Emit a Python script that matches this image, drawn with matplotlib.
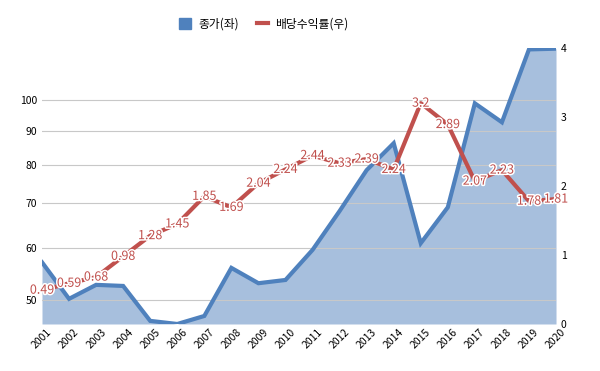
import matplotlib
matplotlib.use("Agg")
import matplotlib.pyplot as plt
import matplotlib.patheffects as pe
from matplotlib.patches import Patch
from matplotlib.lines import Line2D
import numpy as np

plt.rcParams['font.family'] = ['Noto Sans CJK KR', 'DejaVu Sans']

years = [str(y) for y in range(2001, 2021)]
price = [57.0, 50.2, 52.7, 52.5, 46.5, 46.0, 47.3, 55.9, 53.0, 53.6,
         59.5, 68.1, 78.5, 86.2, 60.9, 69.0, 99.0, 92.7, 119.4, 119.7]
yield_ = [0.49, 0.59, 0.68, 0.98, 1.28, 1.45, 1.85, 1.69, 2.04, 2.24,
          2.44, 2.33, 2.39, 2.24, 3.2, 2.89, 2.07, 2.23, 1.78, 1.81]
left_ticks = [50, 60, 70, 80, 90, 100]
right_ticks = [0, 1, 2, 3, 4]

blue_line = '#4F81BD'
blue_fill = '#A7BFDD'
red = '#C0504D'

fig = plt.figure(figsize=(6, 3.71), dpi=100)
ax = fig.add_axes([0.07, 0.1267, 0.8567, 0.744])
x = np.arange(len(years))

ax.set_yscale('log')
ax.set_ylim(46, 120)
ax.set_xlim(0, len(years) - 1)
ax.fill_between(x, 46, price, color=blue_fill, zorder=1, linewidth=0)
ax.plot(x, price, color=blue_line, lw=3, zorder=3, solid_joinstyle='miter')
ax.set_yticks(left_ticks)
ax.set_yticklabels([str(t) for t in left_ticks])
ax.yaxis.set_minor_locator(matplotlib.ticker.NullLocator())
ax.grid(axis='y', which='major', color='#C8C8C8', lw=0.8, zorder=2)
ax.set_axisbelow(False)
for s in ax.spines.values():
    s.set_visible(False)
ax.tick_params(axis='both', length=0, labelsize=7.5)
ax.set_xticks(x)
ax.set_xticklabels(years, rotation=45, ha='center', fontsize=7.5)
ax.tick_params(axis='x', pad=2)

ax2 = ax.twinx()
ax2.set_ylim(0, 4)
ax2.set_yticks(right_ticks)
ax2.plot(x, yield_, color=red, lw=3, zorder=4)
for s in ax2.spines.values():
    s.set_visible(False)
ax2.tick_params(axis='both', length=0, labelsize=7.5)
for xi, v in zip(x, yield_):
    ax2.text(xi, v, f'{v:g}', color=red, fontsize=9, ha='center', va='center',
             zorder=5,
             path_effects=[pe.withStroke(linewidth=2.2, foreground='white')])

handles = [Patch(facecolor=blue_line, edgecolor=blue_line),
           Line2D([0], [0], color=red, lw=3)]
fig.legend(handles, ['종가(좌)', '배당수익률(우)'], loc='center',
           bbox_to_anchor=(0.44, 0.935), ncol=2, frameon=False, fontsize=8.5,
           handlelength=1.0, handleheight=1.0, columnspacing=1.5, handletextpad=0.6)

fig.savefig('out.png', dpi=100)
